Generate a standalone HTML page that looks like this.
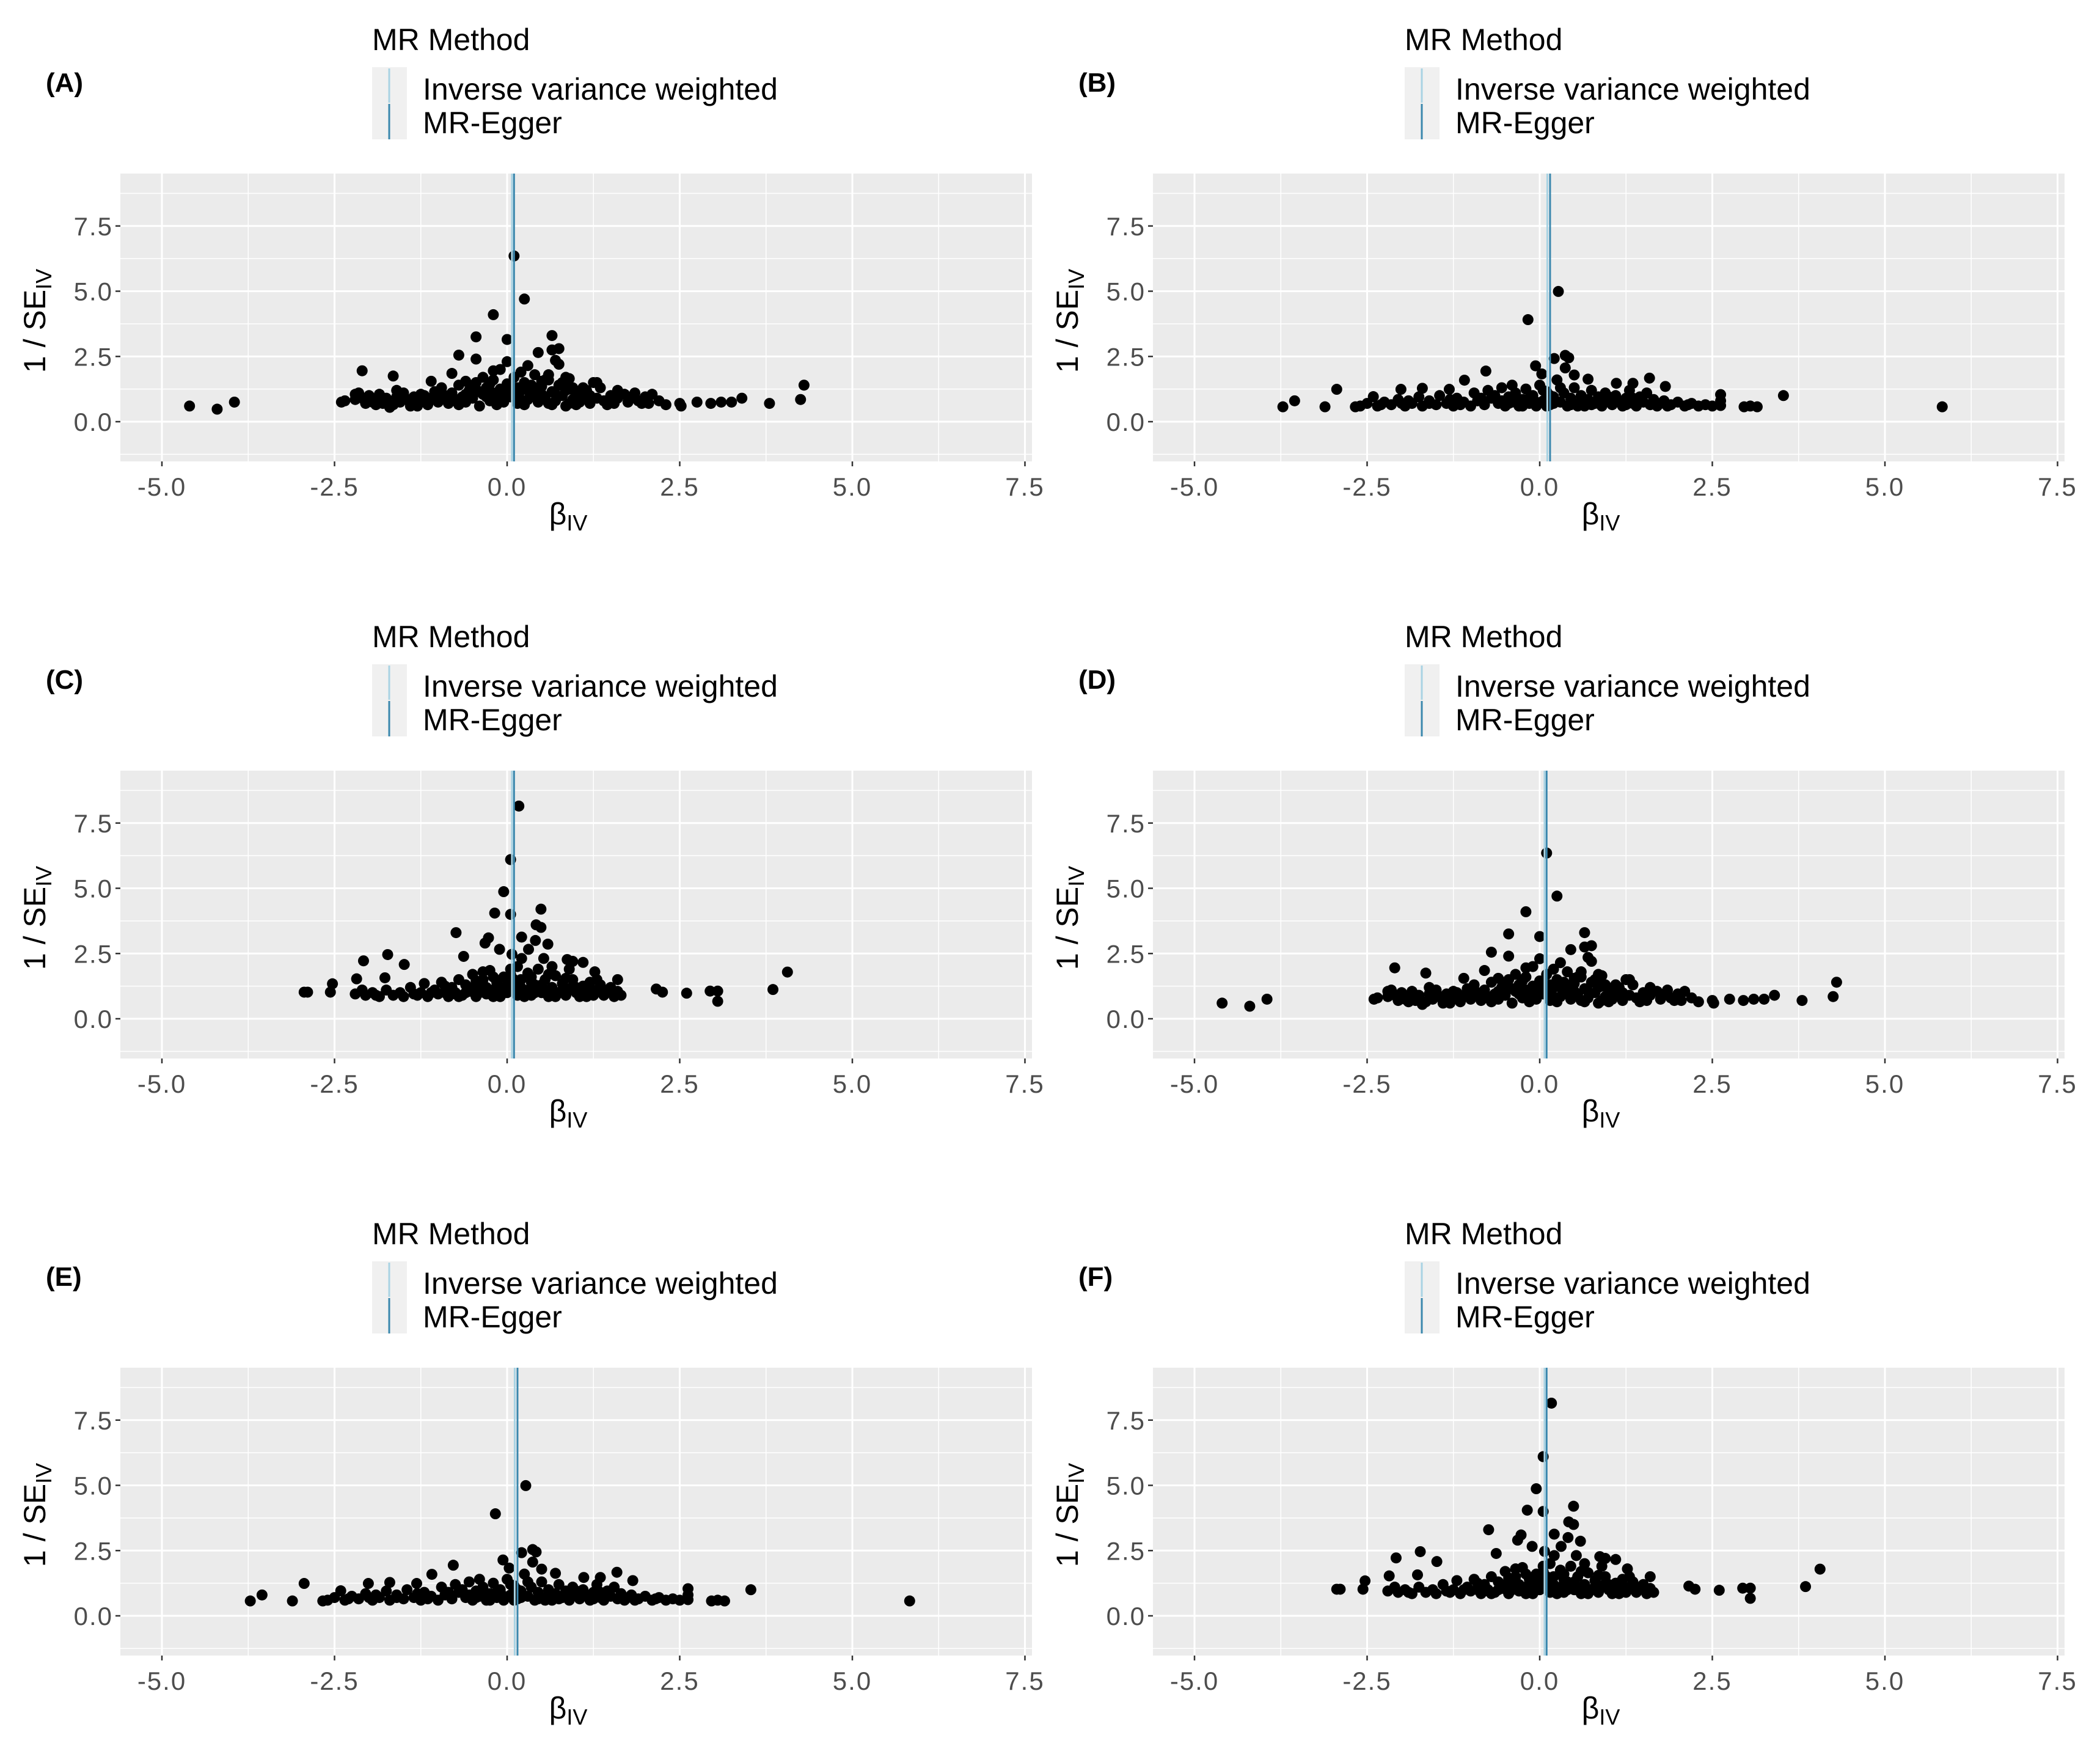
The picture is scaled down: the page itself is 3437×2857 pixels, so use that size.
<!DOCTYPE html>
<html><head><meta charset="utf-8">
<style>
html,body{margin:0;padding:0;background:#fff;}
svg{display:block;font-family:"Liberation Sans",Arial,sans-serif;}
</style></head>
<body>
<svg id="fig" width="3437" height="2857" viewBox="0 0 3437 2857" xmlns="http://www.w3.org/2000/svg"></svg>
<script>
// ---- data ----
const xTicks = [-5, -2.5, 0, 2.5, 5, 7.5];
const xTickLabels = ["-5.0", "-2.5", "0.0", "2.5", "5.0", "7.5"];
const yTicks = [0, 2.5, 5, 7.5];
const yTickLabels = ["0.0", "2.5", "5.0", "7.5"];
const panelLabels = ["(A)", "(B)", "(C)", "(D)", "(E)", "(F)"];
const panelDataset = [0, 1, 2, 0, 1, 2];
const ivwSlope = [0.07, 0.11, 0.07];
const eggerSlope = [0.10, 0.15, 0.10];

const setA = [
[-4.6,0.6],[-4.2,0.48],[-3.95,0.75],
[2.3,0.65],[2.5,0.7],[2.52,0.6],[2.75,0.75],[2.95,0.7],[3.1,0.75],[3.25,0.75],[3.4,0.9],[3.8,0.7],[4.25,0.85],[4.3,1.4],
[0.1,6.35],[0.25,4.7],[-0.2,4.1],[-0.45,3.25],[0.0,3.15],[0.65,3.3],[0.65,2.75],[0.75,2.8],[-0.7,2.55],[-0.45,2.4],[0.45,2.65],[0.0,2.3],[0.7,2.35],[0.75,2.2],[0.3,2.15],[-0.1,2.0],[-0.2,1.95],[-2.1,1.95],[-1.65,1.75],[0.6,1.8],[0.85,1.7],[-0.8,1.85],[-1.1,1.55],[1.3,1.5],[0.9,1.65],
[-2.4,0.75],[-2.35,0.8],[-2.2,0.85],[-2.15,1.1],[-2.1,0.9],[-2.05,0.7],[-2.0,1.0],[-1.95,0.75],[-1.9,0.85],[-1.85,1.05],[-1.8,0.7],[-1.75,0.9],[-1.7,0.55],[-1.65,0.65],[-1.6,0.95],[-1.55,0.75],[-1.5,1.1],[-1.45,0.85],[-1.4,0.6],[-1.35,0.95],[-1.3,0.75],[-1.25,1.05],[-1.2,0.8],[-1.15,0.65],[-1.1,0.9],[-1.05,1.15],[-1.0,0.75],[-0.95,1.3],[-0.9,0.95],[-0.85,0.7],[-0.8,1.1],[-0.75,0.85],[-0.7,1.4],[-0.65,0.95],[-0.6,0.75],[-0.55,1.2],[-0.5,0.9],[-0.45,1.5],[-0.4,0.6],[-0.35,1.05],[-0.3,1.3],[-0.25,0.8],[-0.2,1.6],[-0.15,1.0],[-0.1,1.25],[-0.05,0.75],[0.0,1.45],[0.05,0.95],[0.1,1.7],[0.15,0.7],[0.2,1.2],[0.25,1.5],[0.3,0.85],[0.35,1.1],[0.4,1.8],[0.45,0.75],[0.5,1.35],[0.55,0.95],[0.6,1.6],[0.65,1.15],[0.7,0.8],[0.75,1.4],[0.8,1.0],[0.85,0.6],[0.9,1.25],[0.95,0.85],[1.0,1.1],[1.05,0.75],[1.1,0.95],[1.15,1.2],[1.2,0.7],[1.25,1.5],[1.3,0.9],[1.35,1.3],[1.4,0.8],[1.5,1.0],[1.55,0.7],[1.6,0.9],[1.7,1.05],[1.75,0.75],[1.8,0.95],[1.85,1.1],[1.9,0.8],[2.0,0.95],[2.05,0.7],[2.1,1.05],[2.2,0.8],
[-1.0,0.95],[-0.6,1.05],[-0.3,0.95],[-0.1,0.85],[0.1,1.05],[0.3,1.2],[0.5,1.05],[0.7,1.05],[0.9,0.7],[0.0,0.95],[-0.2,1.1],[0.2,0.85],[0.4,1.0],[-0.4,1.15],[0.6,0.7],[-0.8,0.8],[1.2,1.0],[-1.2,1.0],[0.15,1.3],[-0.05,1.2],[0.35,1.4],[0.55,1.6],[0.8,1.5],[-0.25,1.45],[-0.6,1.55],[0.45,1.3],[-1.5,0.85],[1.6,1.2],[-0.9,1.0],[0.95,1.3],
[-1.9,0.65],[-1.3,0.6],[-0.7,0.65],[-0.15,0.65],[0.25,0.65],[0.65,0.65],[1.0,0.65],[1.45,0.65],[1.95,0.7],[-0.5,1.3],[0.05,1.35],[0.5,1.55],[-0.35,1.7],[0.2,1.9],[0.85,1.2],[1.1,1.3],[-1.6,1.2],[-2.2,1.05]
];

const setB = [
[-3.72,0.57],[-3.55,0.8],[-3.11,0.57],[-2.94,1.24],[-2.67,0.57],[-2.41,0.96],[-2.01,1.24],[-1.7,1.28],[-1.31,1.24],[-1.09,1.59],[-0.78,1.94],[-0.06,2.14],[-0.17,3.91],[0.27,4.99],[0.37,2.54],[0.21,2.42],[0.42,2.45],[0.37,2.06],[0.03,1.83],[0.5,1.79],[0.7,1.63],[1.11,1.47],[1.35,1.47],[1.59,1.67],[1.82,1.35],[2.62,1.04],[3.53,1.0],[3.15,0.57],[2.96,0.57],[3.05,0.6],[5.83,0.57],
[-2.6,0.6],[-2.5,0.7],[-2.35,0.6],[-2.25,0.75],[-2.15,0.65],[-2.05,0.85],[-1.95,0.6],[-1.85,0.7],[-1.75,0.95],[-1.7,0.6],[-1.6,0.8],[-1.5,0.65],[-1.45,1.0],[-1.35,0.7],[-1.25,0.6],[-1.2,0.9],[-1.1,0.75],[-1.0,0.6],[-0.95,1.1],[-0.9,0.8],[-0.8,0.65],[-0.75,1.2],[-0.7,0.9],[-0.6,0.7],[-0.55,1.3],[-0.5,0.6],[-0.45,0.95],[-0.4,0.75],[-0.35,1.1],[-0.3,0.6],[-0.25,0.85],[-0.2,1.25],[-0.15,0.7],[-0.1,1.0],[-0.05,0.6],[0.0,1.4],[0.05,0.8],[0.1,1.15],[0.15,0.65],[0.2,0.95],[0.25,1.6],[0.3,0.75],[0.35,1.1],[0.4,0.6],[0.45,0.9],[0.5,1.3],[0.55,0.7],[0.6,1.0],[0.65,0.6],[0.7,0.85],[0.75,1.2],[0.8,0.7],[0.85,0.95],[0.9,0.6],[0.95,1.1],[1.0,0.8],[1.05,0.65],[1.1,1.0],[1.15,0.75],[1.2,0.6],[1.25,0.9],[1.3,1.2],[1.35,0.7],[1.4,0.6],[1.45,0.95],[1.5,0.75],[1.55,1.1],[1.6,0.65],[1.65,0.85],[1.7,0.6],[1.8,0.8],[1.9,0.65],[2.0,0.75],[2.1,0.6],[2.2,0.7],[2.3,0.6],[2.4,0.65],[2.5,0.6],[2.62,0.8],[2.62,0.62],
[-1.3,0.85],[-0.65,1.0],[-0.15,0.9],[0.15,1.0],[0.45,0.65],[0.85,0.75],[-0.85,0.9],[-0.3,0.8],[0.05,1.2],[0.6,0.8],[1.0,0.95],[-1.6,0.7],[-0.4,1.4],[0.3,1.3],[1.35,0.9],[-2.0,0.7],[-0.05,0.75],[0.2,0.7],[-0.55,0.8],[0.9,0.85],
[-2.3,0.65],[-1.9,0.8],[-1.15,0.65],[-0.25,0.6],[0.1,0.6],[0.55,0.6],[1.25,0.65],[1.75,0.7],[2.15,0.65],[-0.45,0.7],[0.75,0.65],[1.85,0.6]
];

const setC = [
[0.17,8.15],[0.05,6.1],[-0.05,4.87],[-0.18,4.05],[0.05,4.0],[0.49,4.2],[0.42,3.6],[0.49,3.5],[-0.74,3.3],[-0.27,3.1],[0.21,3.13],[0.41,3.0],[-0.32,2.9],[-0.11,2.66],[0.59,2.86],[0.31,2.66],[-1.73,2.46],[-2.08,2.22],[-1.49,2.08],[-0.63,2.39],[0.07,2.47],[0.21,2.31],[0.53,2.31],[0.87,2.27],[1.1,2.16],[0.95,2.2],
[4.06,1.79],[3.85,1.12],[3.05,0.67],[3.05,1.06],[2.94,1.06],[2.6,0.98],[2.25,1.02],[2.16,1.14],[-2.89,1.02],[-2.94,1.02],[-2.56,1.02],[-2.53,1.34],[-2.18,1.53],[-1.77,1.57],[1.6,1.5],[1.27,1.8],
[-2.2,0.95],[-2.1,1.1],[-2.05,0.9],[-1.95,1.0],[-1.85,0.85],[-1.75,1.1],[-1.65,0.9],[-1.55,1.0],[-1.5,0.85],[-1.4,1.2],[-1.35,0.95],[-1.25,1.0],[-1.2,1.35],[-1.15,0.85],[-1.05,1.1],[-1.0,0.95],[-0.95,1.4],[-0.9,1.0],[-0.85,0.85],[-0.8,1.2],[-0.75,1.0],[-0.7,1.5],[-0.65,0.9],[-0.6,1.3],[-0.55,1.05],[-0.5,1.7],[-0.45,0.85],[-0.4,1.2],[-0.35,1.5],[-0.3,0.95],[-0.25,1.85],[-0.2,1.1],[-0.15,1.4],[-0.1,0.85],[-0.05,1.6],[0.0,1.0],[0.05,1.9],[0.1,1.2],[0.15,0.9],[0.2,1.5],[0.25,1.05],[0.3,1.75],[0.35,0.9],[0.4,1.3],[0.45,1.9],[0.5,1.0],[0.55,1.5],[0.6,0.85],[0.65,1.2],[0.7,1.65],[0.75,1.0],[0.8,1.35],[0.85,0.9],[0.9,1.15],[0.95,1.5],[1.0,1.0],[1.05,0.85],[1.1,1.25],[1.15,1.0],[1.2,1.4],[1.25,0.9],[1.3,1.1],[1.35,1.3],[1.4,0.9],[1.45,1.05],[1.5,1.2],[1.55,0.95],[1.6,1.05],[1.65,0.9],
[-0.6,1.0],[-0.3,1.2],[0.0,1.3],[0.3,1.1],[0.6,1.1],[-0.1,1.0],[0.1,1.5],[0.4,1.0],[-0.4,1.0],[0.8,1.1],[-0.8,0.95],[1.0,1.2],[-1.1,1.0],[0.2,1.2],[-0.2,1.6],[0.5,1.3],[0.7,1.0],[-0.5,1.2],[0.9,1.9],[0.15,2.0],[-0.35,1.8],[0.35,1.4],[0.65,2.0],[-0.05,1.15],[1.3,1.5],
[-1.9,0.9],[-1.3,0.9],[-0.7,0.85],[-0.2,0.85],[0.25,0.85],[0.7,0.85],[1.15,0.85],[1.55,0.85],[-0.9,1.25],[-0.15,1.25],[0.35,1.6],[0.85,1.55],[-0.45,1.45],[0.05,1.7],[0.6,1.7],[1.2,1.15]
];
const datasets = [setA, setB, setC];

// ---- layout ----
const NS = "http://www.w3.org/2000/svg";
const svg = document.getElementById("fig");
const colOff = [0, 1690];
const rowOff = [0, 977, 1954];
const PL = 197, PR = 1689, PT = 284, PB = 755;
const X0 = 830, XU = 113;
const Y0 = 690, YU = 42.7;
function el(tag, attrs, parent, text) {
  const e = document.createElementNS(NS, tag);
  for (const k in attrs) e.setAttribute(k, attrs[k]);
  if (text !== undefined) e.textContent = text;
  parent.appendChild(e);
  return e;
}

for (let p = 0; p < 6; p++) {
  const ox = colOff[p % 2], oy = rowOff[Math.floor(p / 2)];
  const sx = v => ox + X0 + v * XU;
  const sy = v => oy + Y0 - v * YU;
  const g = el("g", {}, svg);
  
  

  const lab = el("text", {x: ox + 75, y: oy + 150, "font-size": 44, "font-weight": "bold", fill: "#000"}, g, panelLabels[p]);
  
  

  // legend
  const lg = el("g", {}, g);
  
  
  const lt = el("text", {x: ox + 609, y: oy + 82, "font-size": 50, fill: "#000"}, lg, "MR Method");
  
  
  el("rect", {x: ox + 609, y: oy + 110, width: 57, height: 118, fill: "#f0f0f0"}, lg);
  el("line", {x1: ox + 637, x2: ox + 637, y1: oy + 112, y2: oy + 168, stroke: "#a9d3e3", "stroke-width": 3}, lg);
  el("line", {x1: ox + 637, x2: ox + 637, y1: oy + 170, y2: oy + 228, stroke: "#3a87ad", "stroke-width": 3}, lg);
  const l1 = el("text", {x: ox + 692, y: oy + 163, "font-size": 50, fill: "#000"}, lg, "Inverse variance weighted");
  
  
  const l2 = el("text", {x: ox + 692, y: oy + 218, "font-size": 50, fill: "#000"}, lg, "MR-Egger");
  
  

  // plot panel
  const bg = el("rect", {x: ox + PL, y: oy + PT, width: PR - PL, height: PB - PT, fill: "#ebebeb"}, g);
  
  
  for (let i = 0; i < xTicks.length; i++) {
    const v = xTicks[i] - 1.25;
    el("line", {x1: sx(v), x2: sx(v), y1: oy + PT, y2: oy + PB, stroke: "#fff", "stroke-width": 1.5}, g);
  }
  for (let i = 0; i <= yTicks.length; i++) {
    const v = -1.25 + i * 2.5;
    el("line", {x1: ox + PL, x2: ox + PR, y1: sy(v), y2: sy(v), stroke: "#fff", "stroke-width": 1.5}, g);
  }
  xTicks.forEach(v => el("line", {x1: sx(v), x2: sx(v), y1: oy + PT, y2: oy + PB, stroke: "#fff", "stroke-width": 3}, g));
  yTicks.forEach(v => el("line", {x1: ox + PL, x2: ox + PR, y1: sy(v), y2: sy(v), stroke: "#fff", "stroke-width": 3}, g));

  // points
  const data = datasets[panelDataset[p]];
  const pts = el("g", {}, g);
  
  
  data.forEach(d => {
    const c = el("circle", {cx: sx(d[0]), cy: sy(d[1]), r: 9, fill: "#000"}, pts);
    
    
  });

  const di = panelDataset[p];
  const iv = el("line", {x1: sx(ivwSlope[di]), x2: sx(ivwSlope[di]), y1: oy + PT, y2: oy + PB, stroke: "#a9d3e3", "stroke-width": 3}, g);
  
  
  const eg = el("line", {x1: sx(eggerSlope[di]), x2: sx(eggerSlope[di]), y1: oy + PT, y2: oy + PB, stroke: "#3a87ad", "stroke-width": 3}, g);
  
  

  xTicks.forEach((v, i) => {
    el("line", {x1: sx(v), x2: sx(v), y1: oy + PB, y2: oy + PB + 8, stroke: "#333", "stroke-width": 2.5}, g);
    const t = el("text", {x: sx(v), y: oy + 811, "font-size": 42, "text-anchor": "middle", fill: "#4d4d4d", "letter-spacing": 2}, g, xTickLabels[i]);
    
    
  });
  yTicks.forEach((v, i) => {
    el("line", {x1: ox + PL - 8, x2: ox + PL, y1: sy(v), y2: sy(v), stroke: "#333", "stroke-width": 2.5}, g);
    const t = el("text", {x: ox + PL - 12, y: sy(v) + 15, "font-size": 42, "text-anchor": "end", fill: "#4d4d4d", "letter-spacing": 2}, g, yTickLabels[i]);
    
    
  });

  const xt = el("text", {x: ox + 930, y: oy + 858, "font-size": 50, "text-anchor": "middle", fill: "#000"}, g);
  
  
  el("tspan", {}, xt, "β");
  el("tspan", {"font-size": 36, dy: 10}, xt, "IV");

  const ytx = ox + 74, yty = oy + 525;
  const yt = el("text", {x: ytx, y: yty, "font-size": 50, "text-anchor": "middle", fill: "#000", transform: `rotate(-90 ${ytx} ${yty})`}, g);
  
  
  el("tspan", {}, yt, "1 / SE");
  el("tspan", {"font-size": 36, dy: 10}, yt, "IV");
}
</script>
</body></html>
